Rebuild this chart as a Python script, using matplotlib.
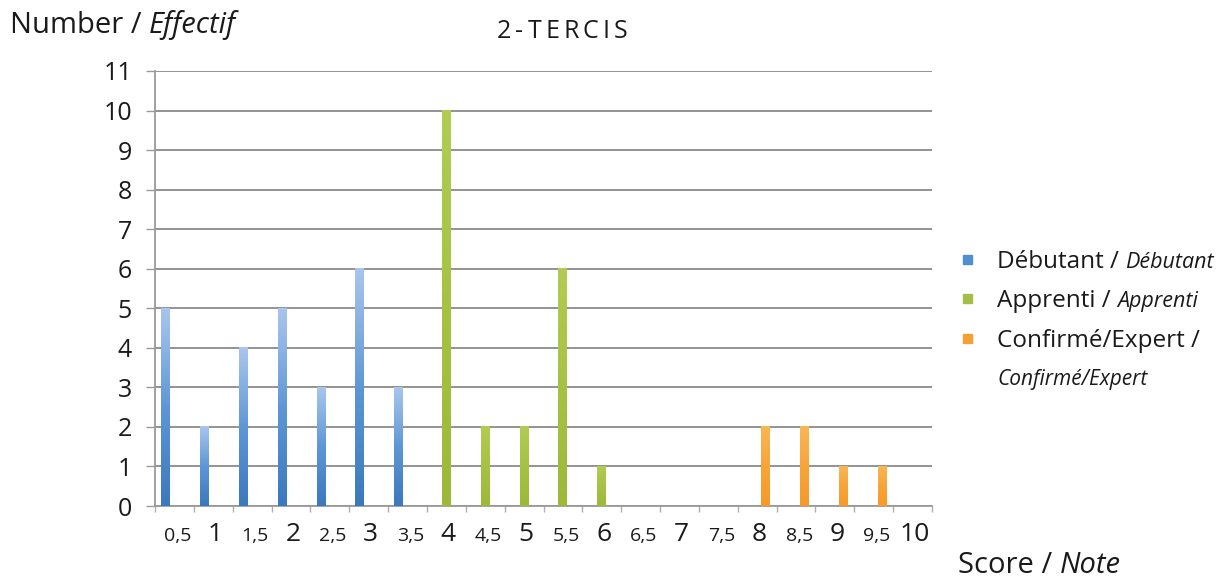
import numpy as np
import matplotlib.pyplot as plt
from matplotlib.colors import LinearSegmentedColormap
from matplotlib.patches import Rectangle

plt.rcParams['font.family'] = ['Open Sans', 'DejaVu Sans']

# scores (catégories) et effectifs par groupe
scores = ['0,5', '1', '1,5', '2', '2,5', '3', '3,5', '4', '4,5', '5',
          '5,5', '6', '6,5', '7', '7,5', '8', '8,5', '9', '9,5', '10']
debutant = [5, 2, 4, 5, 3, 6, 3, 0, 0, 0, 0, 0, 0, 0, 0, 0, 0, 0, 0, 0]
apprenti = [0, 0, 0, 0, 0, 0, 0, 10, 2, 2, 6, 1, 0, 0, 0, 0, 0, 0, 0, 0]
expert = [0, 0, 0, 0, 0, 0, 0, 0, 0, 0, 0, 0, 0, 0, 0, 2, 2, 1, 1, 0]
yticks = list(range(12))

W, H = 1228, 580
fig = plt.figure(figsize=(W / 100, H / 100), dpi=100)
ax = fig.add_axes([155 / W, 1 - 506 / H, 777 / W, 435 / H])

x = np.arange(len(scores))
bw = 0.23
series = [
    (debutant, -0.225, ['#3b79bc', '#5e97d6', '#a9c6ec'], '#4f8fd0'),
    (apprenti, 0.0, ['#9cb93a', '#a6c243', '#b2cb55'], '#a3bf48'),
    (expert, 0.225, ['#f59a2a', '#f7a53a', '#f9b656'], '#f6a034'),
]

grad = np.linspace(0, 1, 128).reshape(-1, 1)
for vals, off, cols, _ in series:
    cmap = LinearSegmentedColormap.from_list('g', cols)
    bars = ax.bar(x + off, vals, width=bw, color='none', zorder=3)
    for b in bars:
        h = b.get_height()
        if h <= 0:
            continue
        x0 = b.get_x()
        ax.imshow(grad, extent=[x0, x0 + bw, 0, h], origin='lower',
                  aspect='auto', cmap=cmap, zorder=3, interpolation='bilinear')

ax.set_xlim(-0.5, len(scores) - 0.5)
ax.set_ylim(0, 11)
ax.set_aspect('auto')

# grille et axes
ax.set_yticks(yticks)
ax.yaxis.grid(True, color='#8a8a8a', linewidth=1.3, zorder=1)
ax.set_axisbelow(True)
for s in ['top', 'right']:
    ax.spines[s].set_visible(False)
for s in ['left', 'bottom']:
    ax.spines[s].set_color('#9a9a9a')
    ax.spines[s].set_linewidth(1.3)
ax.tick_params(axis='y', length=6.5, width=1.0, color='#9a9a9a',
               labelsize=18, pad=10, labelcolor='#1a1a1a')
ax.set_xticks(np.arange(len(scores) + 1) - 0.5)
ax.set_xticklabels([])
ax.tick_params(axis='x', length=4, width=1.0, color='#b0b0b0')

# étiquettes de l'axe x (tailles alternées)
for i, lab in enumerate(scores):
    small = ',' in lab
    ax.text(i + (0.08 if small else 0.05), -35 / 435, lab,
            transform=ax.get_xaxis_transform(), ha='center', va='baseline',
            fontsize=14 if small else 19, color='#1a1a1a')

fig.canvas.draw()
r = fig.canvas.get_renderer()


def mixed(xp, yp, roman, italic, size, isize=None):
    t = fig.text(xp / W, 1 - yp / H, roman, fontsize=size, va='baseline',
                 color='#1a1a1a')
    bb = t.get_window_extent(r)
    fig.text(bb.x1 / W, 1 - yp / H, italic, fontsize=isize or size,
             va='baseline', style='italic', color='#1a1a1a')


# titre avec un léger espacement des lettres
title = '2-TERCIS'
xp = 497
for ch in title:
    t = fig.text(xp / W, 1 - 38 / H, ch, fontsize=18, va='baseline',
                 color='#1a1a1a')
    xp += t.get_window_extent(r).width + 4

mixed(10, 33, 'Number / ', 'Effectif', 21)
mixed(958, 573, 'Score / ', 'Note', 21)

# légende
leg = [('Débutant / ', 'Débutant', 268), ('Apprenti / ', 'Apprenti', 307),
       ('Confirmé/Expert /', '', 347)]
for (rom, it, yb), (_, _, _, c) in zip(leg, series):
    fig.patches.append(Rectangle((963 / W, 1 - (yb - 4) / H), 9 / W, 9 / H,
                                 transform=fig.transFigure, color=c))
    mixed(997, yb, rom, it, 17.5, 15.5)
fig.text(997 / W, 1 - 385 / H, 'Confirmé/Expert', fontsize=15,
         style='italic', va='baseline', color='#1a1a1a')

fig.savefig('out.png', dpi=100)
